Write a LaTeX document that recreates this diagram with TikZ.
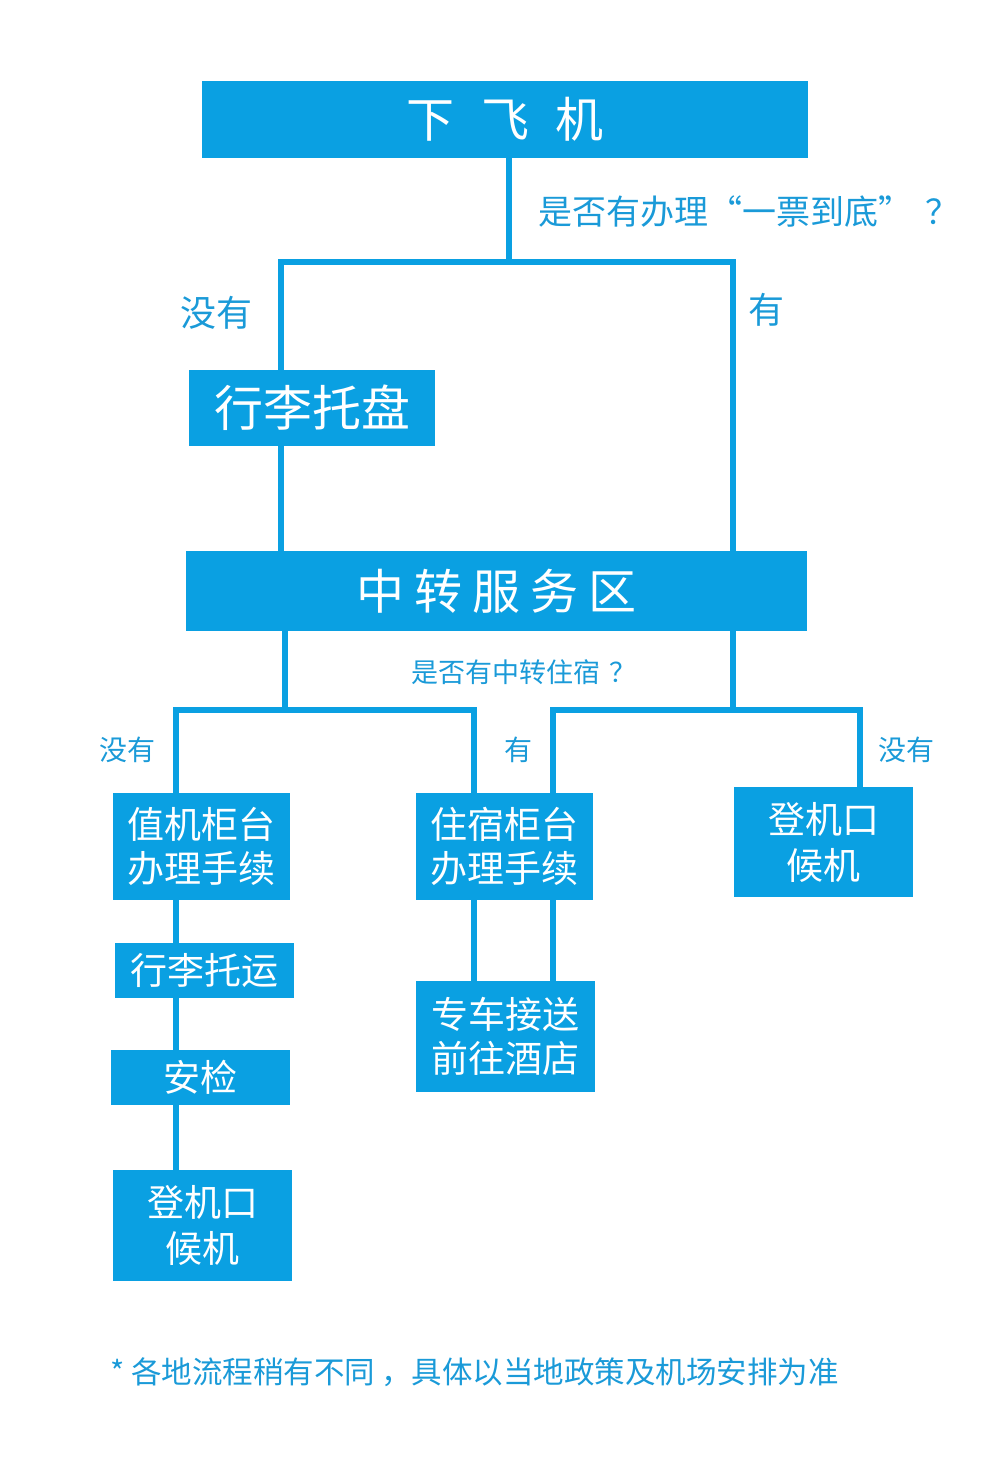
\documentclass[tikz,border=0pt]{standalone}
\usepackage{fontspec}
\setmainfont{Noto Sans CJK SC}
\usetikzlibrary{positioning}
\definecolor{flowblue}{HTML}{0AA0E2}
\definecolor{labelblue}{HTML}{1A9AD8}

\begin{document}
\begin{tikzpicture}[x=1pt, y=-1pt, line join=miter]
    \tikzstyle{box_style} = [rectangle, fill=flowblue, text=white, inner sep=0pt, align=center]
    \tikzstyle{edge_style} = [draw=flowblue, line width=6pt]
    \tikzstyle{label_style} = [text=labelblue, inner sep=0pt]
    \useasboundingbox (0,0) rectangle (1000,1464);

    % boxes
    \node[box_style, minimum width=606pt, minimum height=77pt, font=\fontsize{48}{48}\selectfont] (plane) at (505,119.5) {下\hspace{0.55em}飞\hspace{0.55em}机};
    \node[box_style, minimum width=246pt, minimum height=76pt, font=\fontsize{49}{49}\selectfont] (tray) at (312,408) {行李托盘};
    \node[box_style, minimum width=621pt, minimum height=80pt, font=\fontsize{48}{48}\selectfont] (hub) at (496.5,591) {中\hspace{10pt}转\hspace{10pt}服\hspace{10pt}务\hspace{10pt}区};
    \node[box_style, minimum width=177pt, minimum height=107pt, font=\fontsize{37}{44}\selectfont] (checkin) at (201.5,846.5) {值机柜台\\办理手续};
    \node[box_style, minimum width=177pt, minimum height=107pt, font=\fontsize{37}{44}\selectfont] (hotel) at (504.5,846.5) {住宿柜台\\办理手续};
    \node[box_style, minimum width=179pt, minimum height=110pt, font=\fontsize{37}{46}\selectfont] (gate_r) at (823.5,842) {登机口\\候机};
    \node[box_style, minimum width=179pt, minimum height=55pt, font=\fontsize{37}{37}\selectfont] (bag) at (204.5,970.5) {行李托运};
    \node[box_style, minimum width=179pt, minimum height=55pt, font=\fontsize{37}{37}\selectfont] (security) at (200.5,1077.5) {安检};
    \node[box_style, minimum width=179pt, minimum height=111pt, font=\fontsize{37}{46}\selectfont] (gate_l) at (202.5,1225.5) {登机口\\候机};
    \node[box_style, minimum width=179pt, minimum height=111pt, font=\fontsize{37}{44}\selectfont] (shuttle) at (505.5,1036.5) {专车接送\\前往酒店};

    % labels
    \node[label_style, anchor=west, font=\fontsize{34}{34}\selectfont] (q_ticket) at (538,212) {是否有办理“一票到底”\hspace{0.4em}？};
    \node[label_style, font=\fontsize{36}{36}\selectfont] (no_1) at (216,313) {没有};
    \node[label_style, font=\fontsize{36}{36}\selectfont] (yes_1) at (766,310) {有};
    \node[label_style, font=\fontsize{27}{27}\selectfont] (q_hotel) at (524,672) {是否有中转住宿\hspace{0.3em}？};
    \node[label_style, font=\fontsize{28}{28}\selectfont] (no_2) at (127,750) {没有};
    \node[label_style, font=\fontsize{28}{28}\selectfont] (yes_2) at (518,750) {有};
    \node[label_style, font=\fontsize{28}{28}\selectfont] (no_3) at (906,750) {没有};
    \node[label_style, anchor=west, font=\fontsize{30.5}{30.5}\selectfont] (note) at (110,1372) {* 各地流程稍有不同\hspace{0.2em}，具体以当地政策及机场安排为准};

    % junctions
    \coordinate (s1) at (509,262);
    \coordinate (s1l) at (281,262);
    \coordinate (s1r) at (733,262);
    \coordinate (s2l) at (285,710);
    \coordinate (s2r) at (733,710);
    \coordinate (a1) at (176,710);
    \coordinate (a2) at (474,710);
    \coordinate (b1) at (553,710);
    \coordinate (b2) at (860,710);

    % connectors
    \draw[edge_style] (plane.south -| s1) -- (s1);
    \draw[edge_style] (tray.north -| s1l) |- (s1r) -- (hub.north -| s1r);
    \draw[edge_style] (tray.south -| s1l) -- (hub.north -| s1l);
    \draw[edge_style] (hub.south -| s2l) -- (s2l);
    \draw[edge_style] (hub.south -| s2r) -- (s2r);
    \draw[edge_style] (checkin.north -| a1) |- (a2) -- (hotel.north -| a2);
    \draw[edge_style] (hotel.north -| b1) |- (b2) -- (gate_r.north -| b2);
    \draw[edge_style] (checkin.south -| a1) -- (bag.north -| a1);
    \draw[edge_style] (bag.south -| a1) -- (security.north -| a1);
    \draw[edge_style] (security.south -| a1) -- (gate_l.north -| a1);
    \draw[edge_style] (hotel.south -| a2) -- (shuttle.north -| a2);
    \draw[edge_style] (hotel.south -| b1) -- (shuttle.north -| b1);
\end{tikzpicture}
\end{document}
